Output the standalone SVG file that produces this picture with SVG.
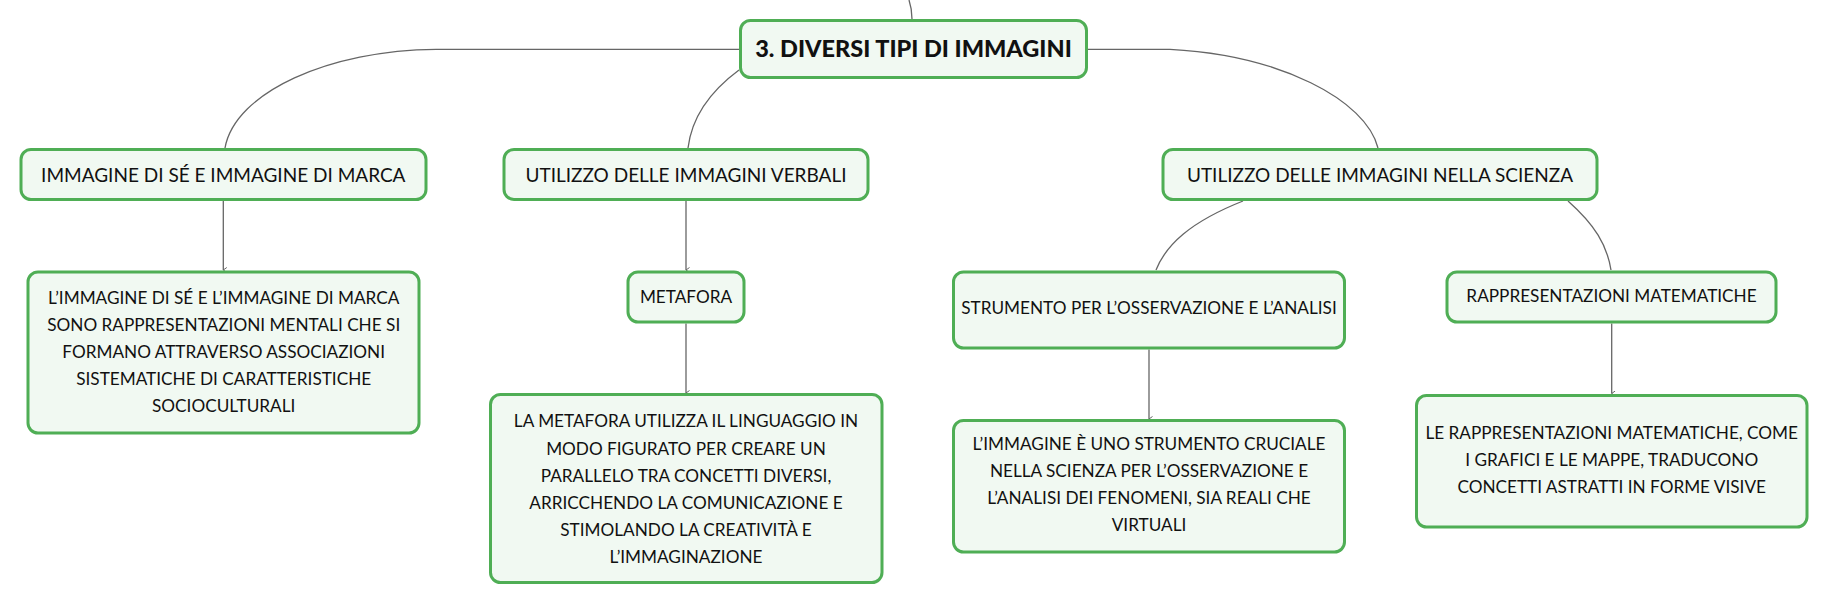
<svg xmlns="http://www.w3.org/2000/svg" width="1829" height="605" viewBox="0 0 1829 605">
<defs>
<style>
.box{fill:#f1f9f2;stroke:#4fae55;stroke-width:3}
.t{font-family:Lato,"Open Sans","Liberation Sans",sans-serif;fill:#111;text-anchor:middle}
.root{font-size:23.5px;font-weight:900}
.l1{font-size:19px}
.d{font-size:17.2px}
.c{fill:none;stroke:#666;stroke-width:1.3}
</style>
<marker id="ah" viewBox="0 0 6 6" refX="3" refY="5" markerWidth="6" markerHeight="6" orient="auto-start-reverse" markerUnits="userSpaceOnUse">
<path d="M0.5,1.5 L3,5 L5.5,1.5" fill="none" stroke="#666" stroke-width="1"/>
</marker>
</defs>
<rect width="1829" height="605" fill="#fff"/>
<g id="connectors">
<path class="c" d="M909,0 C911,6 912,12 912,19"/>
<path class="c" d="M739,49.3 H436 C330,50 235,92 225,148"/>
<path class="c" d="M739,70 C712,90 692,115 688,148"/>
<path class="c" d="M1088,49.3 H1170 C1280,55 1366,100 1378,148"/>
<path class="c" d="M1243,201 C1190,222 1166,245 1156,270"/>
<path class="c" d="M1568,201 C1595,225 1607,245 1611,270"/>
<path class="c" d="M223.3,201 V270" marker-end="url(#ah)"/>
<path class="c" d="M686,201 V270" marker-end="url(#ah)"/>
<path class="c" d="M686,323.5 V393" marker-end="url(#ah)"/>
<path class="c" d="M1149,349.5 V419" marker-end="url(#ah)"/>
<path class="c" d="M1611.7,323.5 V393.5" marker-end="url(#ah)"/>
</g>
<g id="root">
<rect class="box" x="740.5" y="20.5" width="346" height="57" rx="10"/>
<text class="t root" x="913.5" y="57">3. DIVERSI TIPI DI IMMAGINI</text>
</g>
<g id="n-se-marca">
<rect class="box" x="21" y="149.5" width="405" height="50" rx="10"/>
<text class="t l1" x="223.3" y="181.7">IMMAGINE DI SÉ E IMMAGINE DI MARCA</text>
</g>
<g id="n-verbali">
<rect class="box" x="504" y="149.5" width="364" height="50" rx="10"/>
<text class="t l1" x="686" y="181.7">UTILIZZO DELLE IMMAGINI VERBALI</text>
</g>
<g id="n-scienza">
<rect class="box" x="1163" y="149.5" width="434" height="50" rx="10"/>
<text class="t l1" x="1380" y="181.7">UTILIZZO DELLE IMMAGINI NELLA SCIENZA</text>
</g>
<g id="n-se-desc">
<rect class="box" x="28" y="272" width="391" height="161" rx="10"/>
<text class="t d" x="223.7"><tspan x="223.7" y="304">L’IMMAGINE DI SÉ E L’IMMAGINE DI MARCA</tspan><tspan x="223.7" y="331">SONO RAPPRESENTAZIONI MENTALI CHE SI</tspan><tspan x="223.7" y="358">FORMANO ATTRAVERSO ASSOCIAZIONI</tspan><tspan x="223.7" y="385">SISTEMATICHE DI CARATTERISTICHE</tspan><tspan x="223.7" y="412">SOCIOCULTURALI</tspan></text>
</g>
<g id="n-metafora">
<rect class="box" x="628" y="272" width="116" height="50" rx="10"/>
<text class="t d" x="686" y="302.7">METAFORA</text>
</g>
<g id="n-metafora-desc">
<rect class="box" x="490.5" y="394.5" width="391.5" height="188" rx="10"/>
<text class="t d"><tspan x="686" y="427.3">LA METAFORA UTILIZZA IL LINGUAGGIO IN</tspan><tspan x="686" y="454.5">MODO FIGURATO PER CREARE UN</tspan><tspan x="686" y="481.7">PARALLELO TRA CONCETTI DIVERSI,</tspan><tspan x="686" y="509">ARRICCHENDO LA COMUNICAZIONE E</tspan><tspan x="686" y="536.2">STIMOLANDO LA CREATIVITÀ E</tspan><tspan x="686" y="563.4">L’IMMAGINAZIONE</tspan></text>
</g>
<g id="n-strumento">
<rect class="box" x="953.5" y="272" width="391" height="76" rx="10"/>
<text class="t d" x="1149" y="314">STRUMENTO PER L’OSSERVAZIONE E L’ANALISI</text>
</g>
<g id="n-rapp">
<rect class="box" x="1447" y="272" width="329" height="50" rx="10"/>
<text class="t d" x="1611.5" y="302.3">RAPPRESENTAZIONI MATEMATICHE</text>
</g>
<g id="n-strumento-desc">
<rect class="box" x="953.5" y="420.5" width="391" height="131.5" rx="10"/>
<text class="t d"><tspan x="1149" y="450">L’IMMAGINE È UNO STRUMENTO CRUCIALE</tspan><tspan x="1149" y="477">NELLA SCIENZA PER L’OSSERVAZIONE E</tspan><tspan x="1149" y="504">L’ANALISI DEI FENOMENI, SIA REALI CHE</tspan><tspan x="1149" y="531">VIRTUALI</tspan></text>
</g>
<g id="n-rapp-desc">
<rect class="box" x="1416.5" y="395.5" width="390.5" height="131.5" rx="10"/>
<text class="t d"><tspan x="1611.7" y="439.3">LE RAPPRESENTAZIONI MATEMATICHE, COME</tspan><tspan x="1611.7" y="466.3">I GRAFICI E LE MAPPE, TRADUCONO</tspan><tspan x="1611.7" y="493.3">CONCETTI ASTRATTI IN FORME VISIVE</tspan></text>
</g>
</svg>
